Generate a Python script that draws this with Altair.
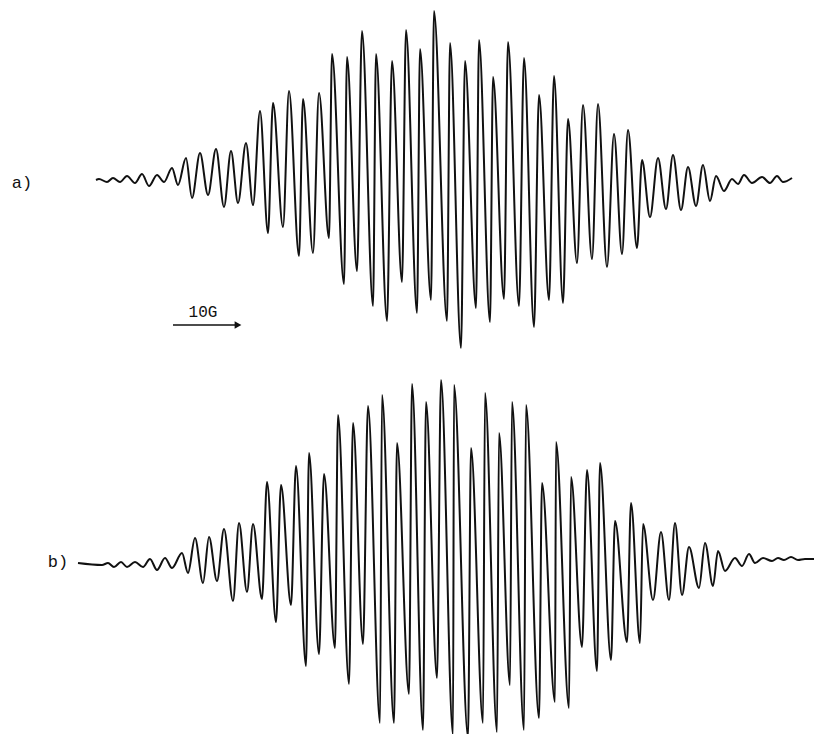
import altair as alt
import pandas as pd

# Trace a): field position and signal (picture units), read at successive extrema
a_field = [96, 99, 107, 113, 120, 127, 135, 142, 149, 157, 164, 172, 178, 186, 192, 200,
           208, 216, 224, 231, 238, 246, 253, 260, 268, 273, 283, 289, 299, 303, 313, 319,
           329, 332, 344, 347, 357, 362, 373, 376, 387, 392, 402, 406, 417, 420, 431, 434,
           447, 450, 461, 465, 476, 479, 490, 493, 504, 508, 519, 524, 534, 539, 549, 554,
           563, 568, 577, 583, 592, 598, 607, 614, 622, 628, 637, 642, 650, 658, 666, 673,
           681, 688, 696, 703, 710, 716, 724, 732, 738, 744, 752, 762, 770, 777, 783, 792]
a_signal = [180, 179, 182, 178, 182, 176, 183, 174, 186, 175, 182, 168, 185, 158, 198, 153,
            195, 149, 207, 151, 203, 143, 205, 111, 233, 103, 227, 91, 256, 99, 253, 93,
            238, 54, 284, 57, 271, 31, 306, 54, 321, 61, 282, 30, 313, 49, 300, 11,
            321, 43, 348, 61, 308, 40, 322, 77, 299, 42, 306, 58, 327, 95, 300, 76,
            303, 119, 263, 105, 259, 104, 267, 134, 254, 130, 248, 160, 217, 158, 209, 155,
            210, 167, 206, 165, 201, 176, 191, 179, 184, 175, 183, 177, 183, 176, 182, 178]

# Trace b)
b_field = [78, 102, 108, 114, 121, 127, 135, 143, 150, 157, 165, 172, 182, 188, 195, 203,
           209, 217, 224, 233, 239, 247, 253, 262, 267, 276, 281, 291, 296, 306, 309, 319,
           324, 335, 338, 349, 353, 363, 368, 380, 382, 394, 397, 409, 412, 423, 426, 437,
           441, 453, 454, 468, 471, 483, 485, 497, 499, 510, 512, 524, 526, 539, 542, 555,
           556, 569, 571, 582, 587, 597, 600, 611, 615, 627, 631, 640, 643, 653, 661, 669,
           675, 682, 689, 699, 705, 713, 718, 725, 735, 742, 749, 755, 763, 772, 778, 784,
           791, 798, 805, 822]
b_signal = [563, 565, 563, 567, 562, 567, 562, 567, 559, 570, 558, 568, 553, 573, 538, 583,
            537, 581, 529, 601, 523, 592, 524, 599, 482, 622, 485, 605, 466, 666, 453, 654,
            474, 648, 415, 684, 423, 644, 406, 723, 395, 723, 443, 694, 384, 730, 402, 678,
            380, 735, 385, 737, 448, 723, 393, 732, 433, 685, 402, 730, 405, 718, 483, 702,
            442, 708, 477, 647, 470, 671, 463, 660, 521, 642, 503, 643, 524, 600, 532, 600,
            523, 595, 547, 588, 543, 586, 551, 571, 558, 566, 554, 563, 558, 561, 558, 560,
            557, 560, 559, 559]

labels = ["a)", "b)"]
label_field = [22, 58]
label_signal = [183, 562]

scale_text = ["10G"]
scale_field = [173, 242]
scale_signal = [325]
scale_text_pos = [203, 312]

assert len(a_field) == len(a_signal)
assert len(b_field) == len(b_signal)

df = pd.concat([
    pd.DataFrame({"field": a_field, "signal": a_signal, "trace": "a", "order": range(len(a_field))}),
    pd.DataFrame({"field": b_field, "signal": b_signal, "trace": "b", "order": range(len(b_field))}),
])

xs = alt.Scale(domain=[8, 814], nice=False, zero=False)
ys = alt.Scale(domain=[734, 8], nice=False, zero=False)

lines = alt.Chart(df).mark_line(interpolate="monotone", color="#111111", strokeWidth=2).encode(
    x=alt.X("field:Q", scale=xs, axis=None),
    y=alt.Y("signal:Q", scale=ys, axis=None),
    detail="trace:N",
    order="order:Q",
)

lab_df = pd.DataFrame({"field": label_field, "signal": label_signal, "label": labels})
lab = alt.Chart(lab_df).mark_text(font="Liberation Mono", fontSize=17, color="#111111",
                                  align="center", baseline="middle").encode(
    x=alt.X("field:Q", scale=xs, axis=None),
    y=alt.Y("signal:Q", scale=ys, axis=None),
    text="label:N",
)

arrow_df = pd.DataFrame({"x1": [scale_field[0]], "x2": [scale_field[1] - 6], "y": scale_signal})
arrow = alt.Chart(arrow_df).mark_rule(color="#111111", strokeWidth=1.5).encode(
    x=alt.X("x1:Q", scale=xs, axis=None),
    x2="x2:Q",
    y=alt.Y("y:Q", scale=ys, axis=None),
)
head_df = pd.DataFrame({"x": [scale_field[1] - 4], "y": scale_signal})
head = alt.Chart(head_df).mark_point(shape="triangle-right", filled=True, color="#111111",
                                     size=60, opacity=1).encode(
    x=alt.X("x:Q", scale=xs, axis=None),
    y=alt.Y("y:Q", scale=ys, axis=None),
)
st_df = pd.DataFrame({"x": [scale_text_pos[0]], "y": [scale_text_pos[1]], "t": scale_text})
stext = alt.Chart(st_df).mark_text(font="Liberation Mono", fontSize=16, color="#111111",
                                   align="center", baseline="middle").encode(
    x=alt.X("x:Q", scale=xs, axis=None),
    y=alt.Y("y:Q", scale=ys, axis=None),
    text="t:N",
)

chart = alt.layer(lines, lab, arrow, head, stext).properties(
    width=806, height=726, padding=0, autosize="none", background="white"
).configure_view(stroke=None)

chart.save("out.html", embed_options={"renderer": "svg", "actions": False})
